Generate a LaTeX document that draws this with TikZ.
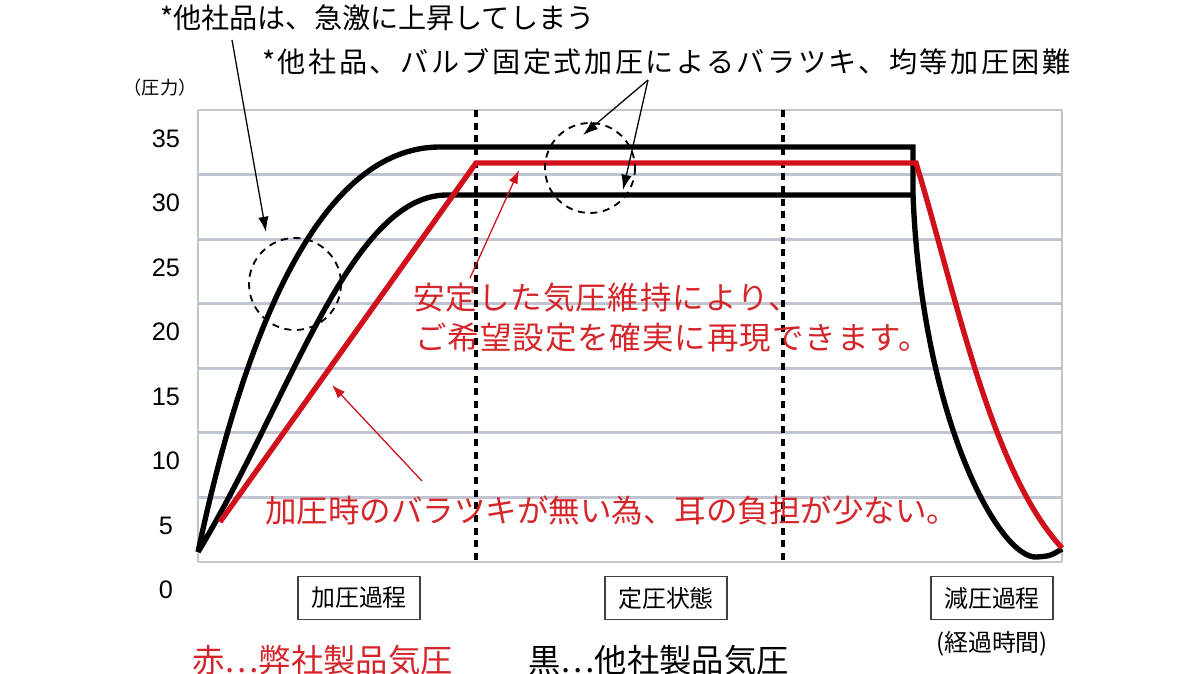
\documentclass[tikz,border=0pt]{standalone}
\usepackage{fontspec}
\setmainfont{Liberation Sans}
\newfontfamily\jp{Noto Sans CJK JP}
\usetikzlibrary{arrows.meta}
\definecolor{gridgray}{RGB}{192,196,208}
\definecolor{chartred}{RGB}{208,16,26}
\definecolor{notered}{RGB}{212,38,42}

\begin{document}
\begin{tikzpicture}[x=0.025cm,y=-0.025cm]
    \tikzstyle{grid line}=[gridgray,line width=2.1pt]
    \tikzstyle{divider}=[black,line width=2.2pt,dash pattern=on 5pt off 4pt]
    \tikzstyle{black curve}=[black,line width=3.8pt,line join=miter]
    \tikzstyle{red curve}=[chartred,line width=3.8pt,line join=miter]
    \tikzstyle{ring}=[black,line width=1.3pt,dash pattern=on 5pt off 4pt]
    \tikzstyle{pointer}=[black,line width=0.9pt,-{Latex[length=0.38cm,width=0.26cm]}]
    \tikzstyle{red pointer}=[chartred,line width=0.9pt,-{Latex[length=0.34cm,width=0.24cm]}]
    \tikzstyle{note}=[inner sep=0pt,anchor=west,font=\jp\fontsize{20}{24}\selectfont]
    \tikzstyle{red note}=[note,text=notered,font=\jp\fontsize{22.4}{26}\selectfont]
    \tikzstyle{legend}=[note,font=\jp\fontsize{23}{27}\selectfont]
    \tikzstyle{axis label}=[inner sep=0pt,font=\fontsize{18}{20}\selectfont]
    \tikzstyle{stage box}=[draw=black!75,line width=0.9pt,minimum width=3.05cm,minimum height=1.08cm,inner sep=0pt,font=\jp\fontsize{17}{20}\selectfont]
    \useasboundingbox (0,0) rectangle (1200,674);
    % grid
    \foreach \k in {0,...,7}
      \draw[grid line] (198,{110+\k*64.57}) -- (1062,{110+\k*64.57});
    \draw[grid line] (198,110) -- (198,562);
    \draw[grid line] (1062,110) -- (1062,562);
    \foreach \v [count=\i from 0] in {0,5,...,35}
      \node[axis label] (y\v) at (166,{590-\i*64.5}) {\v};
    \node[inner sep=0pt,font=\jp\fontsize{13}{16}\selectfont] (unit) at (160,88) {（圧力）};
    \draw[divider] (476,110) -- (476,562);
    \draw[divider] (783,110) -- (783,562);
    % curves
    \draw[black curve] (198,552) .. controls (245,330) and (320,147) .. (440,147)
      -- (913,147) -- (913,195) -- (447,195) .. controls (350,195) and (290,400) .. (198,552);
    \draw[black curve] (913,195) .. controls (922,420) and (1000,560) .. (1037,557)
      .. controls (1050,556) .. (1062,549);
    \draw[red curve] (220,522) -- (476,163) -- (916,163)
      .. controls (955,290) and (990,470) .. (1062,548);
    \draw[ring] (295,284) circle[radius=46];
    \draw[ring] (590,168) circle[radius=45];
    % texts
    \node[note] (rise) at (160,18) {*他社品は、急激に上昇してしまう};
    \node[note] (valve) at (262,62) {\addfontfeature{LetterSpace=9}*他社品、バルブ固定式加圧によるバラツキ、均等加圧困難};
    \node[red note] (stable1) at (413,298) {\addfontfeature{LetterSpace=3}安定した気圧維持により、};
    \node[red note] (stable2) at (415,338) {\addfontfeature{LetterSpace=3}ご希望設定を確実に再現できます。};
    \node[red note] (even) at (265,510) {加圧時のバラツキが無い為、耳の負担が少ない。};
    \node[legend,text=notered] (ours) at (192,660) {赤…弊社製品気圧};
    \node[legend] (theirs) at (528,660) {黒…他社製品気圧};
    \node[stage box] (press) at (359,598) {加圧過程};
    \node[stage box] (hold) at (666,598) {定圧状態};
    \node[stage box] (release) at (992,598) {減圧過程};
    \node[inner sep=0pt,font=\jp\fontsize{17}{20}\selectfont] (time) at (992,644) {(経過時間)};
    % pointers
    \coordinate (riseTail) at (232,40);
    \coordinate (riseHead) at (266,232);
    \coordinate (valveTail) at (648,80);
    \coordinate (valveTop) at (583,135);
    \coordinate (valveLow) at (623,190);
    \coordinate (stableTail) at (470,278);
    \coordinate (stableHead) at (519,170);
    \coordinate (evenTail) at (422,481);
    \coordinate (evenHead) at (332,385);
    \draw[pointer] (riseTail) -- (riseHead);
    \draw[pointer] (valveTail) -- (valveTop);
    \draw[pointer] (valveTail) -- (valveLow);
    \draw[red pointer] (stableTail) -- (stableHead);
    \draw[red pointer] (evenTail) -- (evenHead);
\end{tikzpicture}
\end{document}
